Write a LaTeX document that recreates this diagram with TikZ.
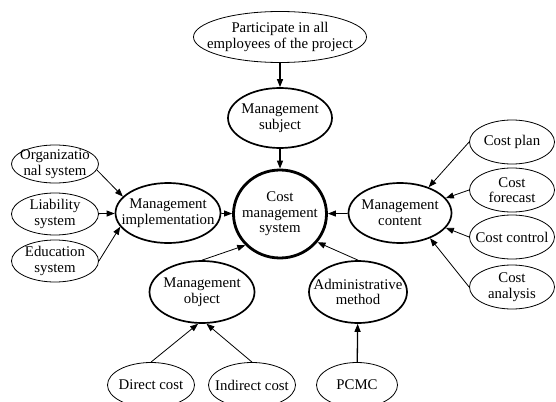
\documentclass[tikz,border=0pt]{standalone}
\usepackage{fontspec}
\setmainfont{Liberation Serif}
\usetikzlibrary{shapes.geometric,arrows.meta}
\newcommand{\txtfont}{\fontsize{14.8}{15.6}\selectfont}
\tikzset{
  oval/.style={
    draw=black,
    ellipse,
    line width=0.8pt,
    inner sep=0pt
  },
  leaf/.style={oval, minimum width=87pt, minimum height=44pt},
  hub/.style={oval, line width=1.7pt, minimum width=104pt, minimum height=60pt},
  core/.style={oval, line width=2.8pt, minimum width=93pt, minimum height=88pt},
  every label/.style={font=\txtfont, align=center, inner sep=0pt},
  link/.style={-{Triangle[length=8pt,width=6pt]}, line width=0.8pt},
  spine/.style={link, line width=1.3pt},
}

\begin{document}
\begin{tikzpicture}[x=1pt,y=-1pt]
  \useasboundingbox (0,0) rectangle (556,401);
  % centre column
  \node[oval, minimum width=173pt, minimum height=51pt,
        label=center:{Participate in all\\employees of the project}] (top) at (280,37) {};
  \node[hub, label=center:{Management\\subject}] (subj) at (280,118) {};
  \node[core, label=center:{Cost\\management\\system}] (cms) at (280,214) {};
  \node[hub, minimum width=105pt, label=center:{Management\\implementation}] (impl) at (168,213) {};
  \node[hub, minimum width=103pt, label=center:{Management\\content}] (cont) at (400,213) {};
  \node[hub, minimum width=105pt, minimum height=62pt, label=center:{Management\\object}] (obj) at (202,292) {};
  \node[hub, minimum width=98pt, minimum height=62pt, label=center:{Administrative\\method}] (adm) at (358,292) {};
  % left group
  \node[leaf, minimum height=38pt, label=center:{Organizatio\\nal system}] (org) at (55,164) {};
  \node[leaf, minimum height=42pt, label=center:{Liability\\system}] (liab) at (55,214) {};
  \node[leaf, minimum height=42pt, label=center:{Education\\system}] (edu) at (55,261) {};
  % right group
  \foreach \n/\t/\y in {plan/{Cost plan}/142, fore/{Cost\\forecast}/190,
                        ctrl/{Cost control}/237, ana/{Cost\\analysis}/287} {
    \node[leaf, minimum width=85pt, label=center:{\t}] (\n) at (512,\y) {};
  }
  % bottom row
  \node[leaf, minimum height=45pt, label=center:{Direct cost}] (dir) at (151,385) {};
  \node[leaf, minimum height=45pt, label=center:{Indirect cost}] (ind) at (252,385) {};
  \node[leaf, minimum width=81pt, minimum height=45pt, label=center:{PCMC}] (pcmc) at (357,385) {};

  \draw[spine] (top) -- (subj);
  \draw[spine] (subj) -- (cms);
  \draw[link] (impl) -- (cms);
  \draw[link] (cont) -- (cms);
  \draw[link] (obj.north) -- (cms.222);
  \draw[link] (adm.north) -- (cms.-37);
  \foreach \a/\b in {org.-8/impl.160, liab/impl, edu.0/impl.-164}
    \draw[link] (\a) -- (\b);
  \foreach \n/\b in {plan/42, fore/18, ctrl/-18, ana/-40}
    \draw[link] (\n.west) -- (cont.\b);
  \draw[link] (dir.north) -- (obj.263);
  \draw[link] (ind.north) -- (obj.278);
  \draw[spine] (pcmc) -- (adm);
\end{tikzpicture}
\end{document}
